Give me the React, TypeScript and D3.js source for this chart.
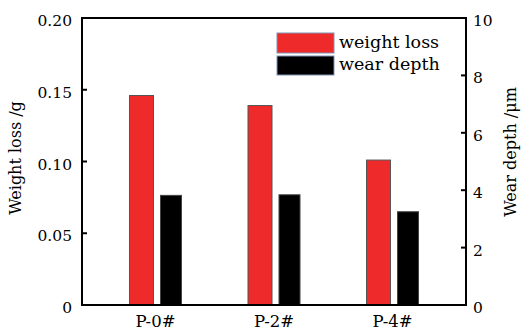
import React from "react";
import * as d3 from "d3";

const categories = ["P-0#", "P-2#", "P-4#"];
const weightLoss = [0.146, 0.139, 0.101];
const wearDepth = [3.82, 3.84, 3.25];
const leftTicks = [0, 0.05, 0.1, 0.15, 0.2];
const leftTickLabels = ["0", "0.05", "0.10", "0.15", "0.20"];
const rightTicks = [0, 2, 4, 6, 8, 10];
const seriesNames = ["weight loss", "wear depth"];
const seriesColors = ["#EE2A2A", "#000000"];

const W = 523;
const H = 332;
const X0 = 82;
const X1 = 466;
const Y0 = 18;
const Y1 = 305;
const FONT = "'DejaVu Serif', serif";

export default function App() {
  const x = d3.scalePoint<string>().domain(categories).range([X0, X1]).padding(0.62);
  const yL = d3.scaleLinear().domain([0, 0.2]).range([Y1, Y0]);
  const yR = d3.scaleLinear().domain([0, 10]).range([Y1, Y0]);

  return (
    <svg
      width={W}
      height={H}
      style={{ position: "absolute", left: 0, top: 0, background: "#fff" }}
      fontFamily={FONT}
    >
      {categories.map((c, i) => {
        const cx = x(c)!;
        return (
          <g key={c}>
            <rect
              x={cx - 26}
              y={yL(weightLoss[i])}
              width={24}
              height={Y1 - yL(weightLoss[i])}
              fill={seriesColors[0]}
              stroke="#555"
              strokeWidth={1}
            />
            <rect
              x={cx + 5}
              y={yR(wearDepth[i])}
              width={21}
              height={Y1 - yR(wearDepth[i])}
              fill={seriesColors[1]}
              stroke="#444"
              strokeWidth={1}
            />
            <text x={cx} y={327} fontSize={16.5} textAnchor="middle" fill="#000">
              {c}
            </text>
          </g>
        );
      })}

      <rect x={X0} y={Y0} width={X1 - X0} height={Y1 - Y0} fill="none" stroke="#000" strokeWidth={2} />

      {leftTicks.map((t, i) => (
        <g key={"l" + t}>
          <line x1={X0} x2={X0 + 5} y1={yL(t)} y2={yL(t)} stroke="#000" strokeWidth={2} />
          <text x={72} y={yL(t) + 8} fontSize={15.5} textAnchor="end" fill="#000">
            {leftTickLabels[i]}
          </text>
        </g>
      ))}

      {rightTicks.map((t) => (
        <g key={"r" + t}>
          <line x1={X1 - 5} x2={X1} y1={yR(t)} y2={yR(t)} stroke="#000" strokeWidth={2} />
          <text x={473} y={yR(t) + 8} fontSize={15.5} textAnchor="start" fill="#000">
            {String(t)}
          </text>
        </g>
      ))}

      <text transform={`translate(21,158) rotate(-90)`} fontSize={16} textAnchor="middle" fill="#000">
        Weight loss /g
      </text>
      <text transform={`translate(516,152) rotate(-90)`} fontSize={16} textAnchor="middle" fill="#000">
        Wear depth /μm
      </text>

      <rect x={277} y={33} width={57} height={20} fill={seriesColors[0]} stroke="#7f93b3" strokeWidth={1} />
      <rect x={277} y={56} width={57} height={19} fill={seriesColors[1]} stroke="#7f93b3" strokeWidth={1} />
      <text x={339} y={48} fontSize={17.5} fill="#000">
        {seriesNames[0]}
      </text>
      <text x={339} y={70} fontSize={17.5} fill="#000">
        {seriesNames[1]}
      </text>
    </svg>
  );
}
